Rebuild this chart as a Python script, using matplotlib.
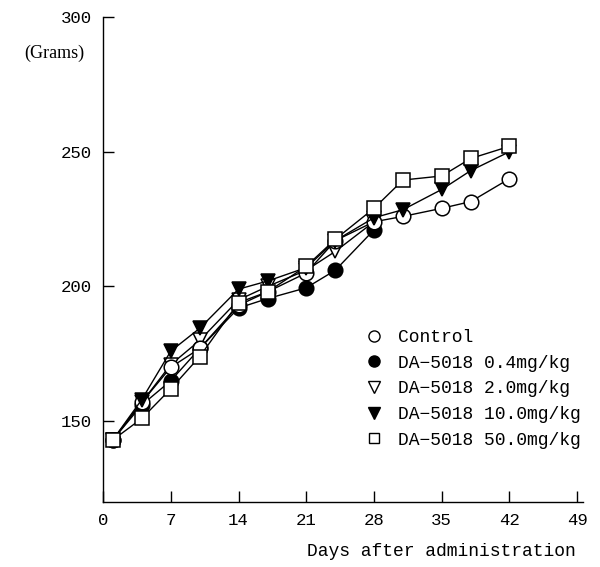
"""
Body weight after administration of DA-5018
"""

import matplotlib.pyplot as plt
from matplotlib.lines import Line2D

plt.rcParams['font.family'] = ['Liberation Mono', 'DejaVu Sans Mono']

# Days of measurement
days_full = [1, 4, 7, 10, 14, 17, 21, 24, 28, 31, 35, 38, 42]
days_short = [1, 4, 7, 10, 14, 17, 21, 24, 28]

# Body weight (grams)
control = [143, 157, 170, 177, 193, 198, 205, 217, 224, 226, 229, 231.5, 240]
da_04 = [143, 156, 165, 177, 192, 195.5, 199.5, 206, 221]
da_20 = [143, 157, 171, 180, 195, 200, 206, 213, 224]
da_100 = [143, 158, 176, 184.5, 199, 202, 207, 217, 225.5, 228.5, 236, 243, 250]
da_500 = [143, 151, 162, 174, 194, 198, 207.5, 217.5, 229, 239.5, 241, 247.5, 252]

labels = ['Control', 'DA\u22125018 0.4mg/kg', 'DA\u22125018 2.0mg/kg',
          'DA\u22125018 10.0mg/kg', 'DA\u22125018 50.0mg/kg']

xticks = [0, 7, 14, 21, 28, 35, 42, 49]
yticks = [150, 200, 250, 300]

fig = plt.figure(figsize=(6.0, 5.67), dpi=100)
ax = fig.add_axes([0.1717, 0.1146, 0.8, 0.8554])

series = [
    (days_short, da_04, dict(marker='o', mfc='black', ms=10.5)),
    (days_short, da_20, dict(marker='v', mfc='white', ms=10.5)),
    (days_full, control, dict(marker='o', mfc='white', ms=10.5)),
    (days_full, da_100, dict(marker='v', mfc='black', ms=10.5)),
    (days_full, da_500, dict(marker='s', mfc='white', ms=9.5)),
]
for x, y, st in series:
    ax.plot(x, y, color='black', linewidth=1.0, mec='black', mew=1.1, **st)

# legend handles (markers only, smaller)
handles = [
    Line2D([], [], linestyle='none', marker='o', mfc='white', mec='black', ms=8),
    Line2D([], [], linestyle='none', marker='o', mfc='black', mec='black', ms=8),
    Line2D([], [], linestyle='none', marker='v', mfc='white', mec='black', ms=8),
    Line2D([], [], linestyle='none', marker='v', mfc='black', mec='black', ms=8),
    Line2D([], [], linestyle='none', marker='s', mfc='white', mec='black', ms=7),
]
ax.legend(handles, labels, loc='upper left', bbox_to_anchor=(0.52, 0.383),
          frameon=False, fontsize=13, handlelength=1.0, handletextpad=0.8,
          labelspacing=0.48, borderpad=0.2)

ax.set_xlim(0, 49.6)
ax.set_ylim(120, 300)
ax.set_xticks(xticks)
ax.set_yticks(yticks)
ax.spines['top'].set_visible(False)
ax.spines['right'].set_visible(False)
ax.spines['left'].set_linewidth(1.0)
ax.spines['bottom'].set_linewidth(1.0)
ax.tick_params(direction='in', length=8, width=1.0, labelsize=12.5, pad=8)

ax.text(-0.038, 0.926, '(Grams)', transform=ax.transAxes, ha='right',
        va='center', fontsize=13, family=['Liberation Serif'])
ax.set_xlabel('Days after administration', fontsize=13)
ax.xaxis.set_label_coords(0.985, -0.101)
ax.xaxis.label.set_ha('right')
ax.xaxis.label.set_va('center')

fig.savefig('out.png', dpi=100, facecolor='white')
plt.close()
